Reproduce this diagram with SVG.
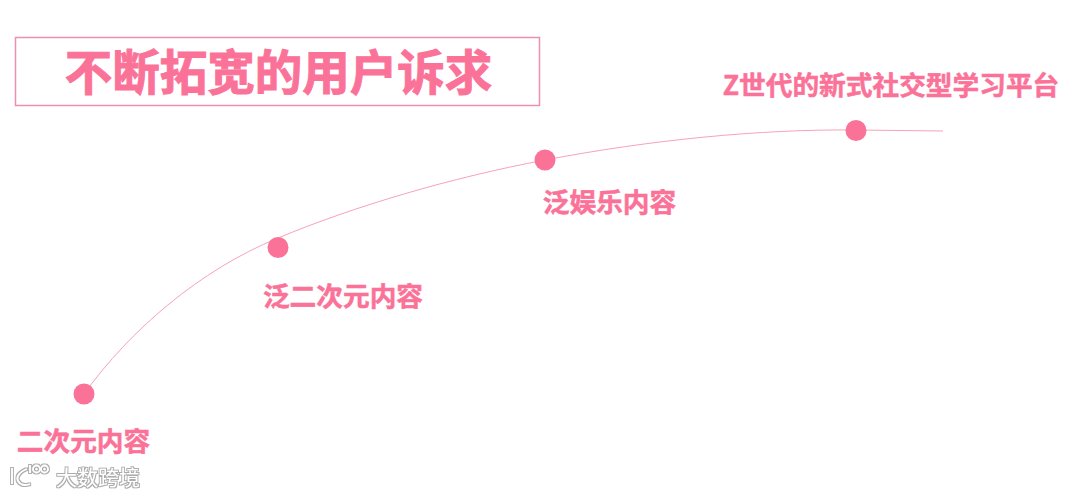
<svg xmlns="http://www.w3.org/2000/svg" width="1080" height="497" viewBox="0 0 1080 497">
<defs>
<style>
.lbl{font-family:"Noto Sans CJK SC","Liberation Sans",sans-serif;font-weight:700;fill:#fb7299;stroke:#fb7299;stroke-width:.5px}
.dot{fill:#fb7299}
.wm{font-family:"Noto Sans CJK SC",sans-serif;font-weight:400;font-size:21px;fill:#fff}
.logo{fill:none;stroke:#fff;stroke-width:1.800}
</style>
<filter id="halo" x="-10%" y="-30%" width="120%" height="160%">
<feMorphology in="SourceAlpha" operator="dilate" radius="0.8" result="d"/>
<feGaussianBlur in="d" stdDeviation="0.7" result="b"/>
<feFlood flood-color="#8f8f8f" flood-opacity=".75"/>
<feComposite in2="b" operator="in" result="s"/>
<feMerge><feMergeNode in="s"/><feMergeNode in="SourceGraphic"/></feMerge>
</filter>
</defs>
<rect width="1080" height="497" fill="#fff"/>
<g id="title">
<rect x="15.500" y="37.500" width="524" height="68" fill="#fff" stroke="#ef8fae" stroke-width="1.500"/>
<text class="lbl" x="278.500" y="90" font-size="47.500" text-anchor="middle" style="stroke-width:1px">不断拓宽的用户诉求</text>
</g>
<g id="connectors">
<path d="M84 394C130 330 200 270 278 238C355 206 450 178 545 160C650 140 760 129 856 130L943 131" fill="none" stroke="#f5a3bc" stroke-width="1"/>
</g>
<g id="node1"><circle class="dot" cx="84" cy="394" r="10.500"/><text class="lbl" x="83.500" y="451" font-size="26.700" text-anchor="middle">二次元内容</text></g>
<g id="node2"><circle class="dot" cx="278" cy="247.500" r="10.500"/><text class="lbl" x="343" y="306" font-size="26.700" text-anchor="middle">泛二次元内容</text></g>
<g id="node3"><circle class="dot" cx="545" cy="160" r="10.500"/><text class="lbl" x="609.500" y="212" font-size="26.700" text-anchor="middle">泛娱乐内容</text></g>
<g id="node4"><circle class="dot" cx="856" cy="130.500" r="10.500"/><text class="lbl" x="891" y="95" font-size="26.700" text-anchor="middle">Z世代的新式社交型学习平台</text></g>
<g id="watermark" filter="url(#halo)">
<g class="logo"><path d="M12 468V484M27 469C19 472 16 477 18 481C20 485 25 486 30 484M30 465V473"/><circle cx="36.500" cy="469" r="3.500"/><circle cx="44.500" cy="469" r="3.500"/></g>
<text class="wm" x="56" y="485">大数跨境</text>
</g>
</svg>
